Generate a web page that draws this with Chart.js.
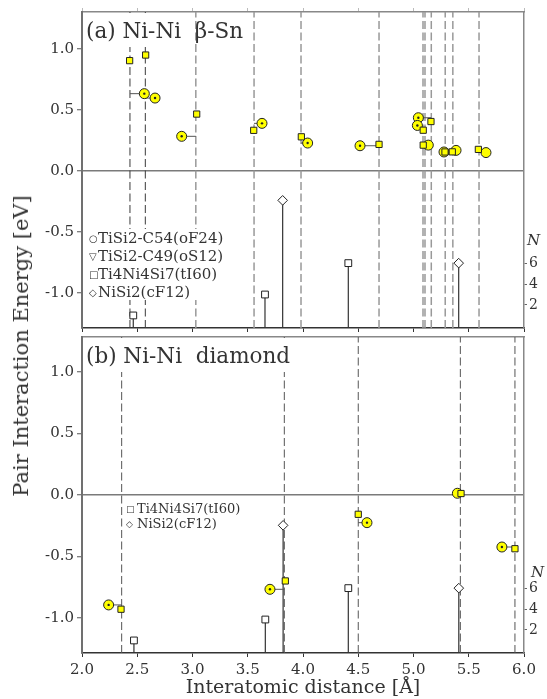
<!DOCTYPE html>
<html>
<head>
<meta charset="utf-8">
<script src="https://cdn.jsdelivr.net/npm/chart.js@4.4.0/dist/chart.umd.min.js"></script>
<style>
    html, body { margin: 0; padding: 0; background: #fff; }
    #wrap { position: relative; width: 547px; height: 699px; overflow: hidden; }
    canvas { position: absolute; left: 0; }
    #chartA { top: 0; }
    #chartB { top: 320px; }
    #ytitle {
        position: absolute; left: 21px; top: 346px;
        transform: translate(-50%, -50%) rotate(-90deg);
        font: 21px 'DejaVu Serif', serif; color: #333; white-space: nowrap;
    }
</style>
</head>
<body>
<div id="wrap">
    <canvas id="chartA" width="547" height="340"></canvas>
    <canvas id="chartB" width="547" height="379"></canvas>
    <div id="ytitle">Pair Interaction Energy [eV]</div>
</div>
<script>
const SERIF = "'DejaVu Serif', serif";

const xTicks = [2.0, 2.5, 3.0, 3.5, 4.0, 4.5, 5.0, 5.5, 6.0];
const yTicks = [-1.0, -0.5, 0.0, 0.5, 1.0];
const nTicks = [2, 4, 6];

// (a) Ni-Ni beta-Sn
const aGuideDark = [2.434, 2.573];
const aGuideLight = [3.030, 3.557, 3.982, 4.688, 5.086, 5.104, 5.161, 5.287, 5.356, 5.593];
const aSquareX = [2.431, 2.576, 3.038, 3.554, 3.985, 4.688, 5.158, 5.088, 5.088, 5.285, 5.351, 5.587];
const aSquareY = [0.902, 0.948, 0.465, 0.332, 0.279, 0.217, 0.404, 0.333, 0.211, 0.155, 0.156, 0.176];
const aCircleX = [2.564, 2.661, 2.902, 3.629, 4.042, 4.516, 5.044, 5.035, 5.134, 5.276, 5.385, 5.656];
const aCircleY = [0.632, 0.596, 0.283, 0.389, 0.228, 0.206, 0.435, 0.372, 0.211, 0.155, 0.168, 0.150];
const aCircleFrom = [2.434, 2.573, 3.030, 3.557, 3.982, 4.688, 5.161, 5.086, null, null, null, null];
const aStemX = [2.464, 3.656, 3.816, 4.410, 5.409];
const aStemN = [1, 3, 12, 6, 6];
const aStemPhase = ['tI60', 'tI60', 'cF12', 'tI60', 'cF12'];

// (b) Ni-Ni diamond
const bGuide = [2.359, 3.831, 4.500, 5.424, 5.918];
const bSquareX = [2.353, 3.840, 4.500, 5.430, 5.918];
const bSquareY = [-0.929, -0.699, -0.157, 0.012, -0.437];
const bCircleX = [2.241, 3.701, 4.579, 5.397, 5.800];
const bCircleY = [-0.894, -0.767, -0.225, 0.014, -0.423];
const bCircleFrom = [2.359, 3.831, 4.500, null, 5.918];
const bStemX = [2.470, 3.659, 3.820, 4.410, 5.410];
const bStemN = [1, 3, 12, 6, 6];
const bStemPhase = ['tI60', 'tI60', 'cF12', 'tI60', 'cF12'];

const N_MIN = -0.2, N_MAX = 30;
const phaseStyle = { tI60: 'rect', cF12: 'rectRot' };

function pairs(xs, ys) {
    return xs.map((x, i) => ({ x: x, y: ys[i] }));
}

function guides(xs, lo, hi) {
    const pts = [];
    xs.forEach(x => { pts.push({ x: x, y: lo }, { x: x, y: hi }, { x: x, y: null }); });
    return pts;
}

function connectors(cx, cy, from) {
    const pts = [];
    cx.forEach((x, i) => {
        if (from[i] === null) return;
        pts.push({ x: from[i], y: cy[i] }, { x: x, y: cy[i] }, { x: x, y: null });
    });
    return pts;
}

function dots(cx, cy, from) {
    return cx.map((x, i) => ({ x: x, y: cy[i] })).filter((p, i) => from[i] !== null);
}

function stems(xs, ns) {
    const pts = [];
    xs.forEach((x, i) => { pts.push({ x: x, y: N_MIN }, { x: x, y: ns[i] }, { x: x, y: null }); });
    return pts;
}

const textPlugin = {
    id: 'panelText',
    afterDatasetsDraw(chart, args, opts) {
        const ctx = chart.ctx;
        (opts.boxes || []).forEach(b => {
            ctx.save();
            ctx.fillStyle = '#fff';
            ctx.fillRect(b[0], b[1], b[2], b[3]);
            ctx.restore();
        });
        (opts.items || []).forEach(it => {
            ctx.save();
            ctx.font = it.font;
            ctx.fillStyle = '#333';
            ctx.textBaseline = 'alphabetic';
            ctx.fillText(it.text, it.x, it.y);
            ctx.restore();
        });
    }
};

function buildScales(yMin, yMax, bottomLabels) {
    const x = {
        type: 'linear', position: 'bottom', min: 2, max: 6,
        afterBuildTicks: s => { s.ticks = xTicks.map(v => ({ value: v })); },
        grid: { drawOnChartArea: false, drawTicks: true, tickLength: 4, tickColor: '#333' },
        border: { color: '#333', width: 1.5 },
        ticks: { display: false }
    };
    if (bottomLabels) {
        x.ticks = {
            display: true, padding: 4, color: '#333', autoSkip: false, maxRotation: 0,
            font: { family: SERIF, size: 15 },
            callback: v => v.toFixed(1)
        };
        x.title = {
            display: true, text: 'Interatomic distance [Å]', color: '#333',
            font: { family: SERIF, size: 19 }, padding: { top: 0, bottom: 0 }
        };
        x.afterFit = s => { s.height = 46; };
    }
    const xTop = {
        type: 'linear', position: 'top', min: 2, max: 6,
        afterBuildTicks: s => { s.ticks = xTicks.map(v => ({ value: v })); },
        ticks: { display: false },
        grid: bottomLabels
            ? { display: false, drawTicks: false }
            : { drawOnChartArea: false, drawTicks: true, tickLength: 4, tickColor: '#bbb' },
        border: { display: true, color: '#888', width: 1.5 }
    };
    return {
        x: x,
        xTop: xTop,
        y: {
            type: 'linear', position: 'left', min: yMin, max: yMax,
            afterBuildTicks: s => { s.ticks = yTicks.map(v => ({ value: v })); },
            afterFit: s => { s.width = 82; },
            ticks: { padding: 3, color: '#333', font: { family: SERIF, size: 15 }, callback: v => v.toFixed(1) },
            grid: {
                drawTicks: true, tickLength: 5, tickColor: '#555', tickWidth: 1,
                color: c => (c.tick && c.tick.value === 0) ? '#7a7a7a' : 'rgba(0,0,0,0)',
                lineWidth: 1.5
            },
            border: { color: '#707070', width: 2 }
        },
        n: {
            axis: 'y', type: 'linear', position: 'right', min: N_MIN, max: N_MAX,
            afterBuildTicks: s => { s.ticks = nTicks.map(v => ({ value: v })); },
            afterFit: s => { s.width = 23; },
            ticks: { padding: 2, color: '#333', font: { family: SERIF, size: 14 } },
            grid: { drawOnChartArea: false, drawTicks: true, tickLength: 3, tickColor: '#666' },
            border: { color: '#888', width: 1.5 }
        }
    };
}

function buildDatasets(p) {
    const sets = [
        {
            data: pairs(p.sqX, p.sqY), pointStyle: 'rect', pointRadius: 4.4,
            backgroundColor: '#ffff00', borderColor: '#222', borderWidth: 1, order: 1
        },
        {
            data: dots(p.cX, p.cY, p.cFrom), pointStyle: 'circle', pointRadius: 1.2,
            backgroundColor: '#222', borderColor: '#222', borderWidth: 0, order: 2
        },
        {
            data: pairs(p.cX, p.cY), pointStyle: 'circle', pointRadius: 5,
            backgroundColor: '#ffff00', borderColor: '#222', borderWidth: 1, order: 3
        },
        {
            data: connectors(p.cX, p.cY, p.cFrom), showLine: true, pointRadius: 0,
            borderColor: '#555', borderWidth: 1, order: 4
        },
        {
            data: pairs(p.stemX, p.stemN), yAxisID: 'n',
            pointStyle: p.stemPhase.map(k => phaseStyle[k]), pointRadius: 4.8,
            backgroundColor: '#fff', borderColor: '#222', borderWidth: 1, order: 5
        },
        {
            data: stems(p.stemX, p.stemN), yAxisID: 'n', showLine: true, pointRadius: 0,
            borderColor: '#333', borderWidth: 1.2, order: 6
        }
    ];
    p.guides.forEach((g, i) => {
        sets.push({
            data: guides(g.xs, p.yMin, p.yMax), showLine: true, pointRadius: 0,
            borderColor: g.color, borderWidth: g.width, borderDash: [8, 3.5], order: 7 + i
        });
    });
    return sets;
}

function makeChart(id, p, scales, layoutPad, textOpts) {
    return new Chart(document.getElementById(id), {
        type: 'scatter',
        data: { datasets: buildDatasets(p) },
        options: {
            responsive: false,
            animation: false,
            devicePixelRatio: 1,
            events: [],
            layout: { padding: layoutPad },
            plugins: {
                legend: { display: false },
                tooltip: { enabled: false },
                panelText: textOpts
            },
            scales: scales
        },
        plugins: [textPlugin]
    });
}

const aYMin = -1.285, aYMax = 1.30;
const bYMin = -1.285, bYMax = 1.285;

makeChart('chartA', {
    sqX: aSquareX, sqY: aSquareY, cX: aCircleX, cY: aCircleY, cFrom: aCircleFrom,
    stemX: aStemX, stemN: aStemN, stemPhase: aStemPhase, yMin: aYMin, yMax: aYMax,
    guides: [
        { xs: aGuideDark, color: '#3a3a3a', width: 1 },
        { xs: aGuideLight, color: '#999', width: 1.5 }
    ]
}, buildScales(aYMin, aYMax, false), { top: 8, bottom: 6, left: 0, right: 0 }, {
    boxes: [[84, 13, 106, 34], [87, 229, 141, 71]],
    items: [
        { text: '(a) Ni-Ni  β-Sn', x: 86, y: 38, font: '21.5px ' + SERIF },
        { text: '○', x: 89, y: 242, font: '10px DejaVu Sans' },
        { text: 'TiSi2-C54(oF24)', x: 98, y: 243, font: '15px ' + SERIF },
        { text: '▽', x: 89, y: 260, font: '10px DejaVu Sans' },
        { text: 'TiSi2-C49(oS12)', x: 98, y: 261, font: '15px ' + SERIF },
        { text: '□', x: 89, y: 278, font: '10px DejaVu Sans' },
        { text: 'Ti4Ni4Si7(tI60)', x: 98, y: 279, font: '15px ' + SERIF },
        { text: '◇', x: 89, y: 296, font: '10px DejaVu Sans' },
        { text: 'NiSi2(cF12)', x: 98, y: 297, font: '15px ' + SERIF },
        { text: 'N', x: 527, y: 245, font: 'italic 15px ' + SERIF }
    ]
});

makeChart('chartB', {
    sqX: bSquareX, sqY: bSquareY, cX: bCircleX, cY: bCircleY, cFrom: bCircleFrom,
    stemX: bStemX, stemN: bStemN, stemPhase: bStemPhase, yMin: bYMin, yMax: bYMax,
    guides: [
        { xs: bGuide, color: '#555', width: 1 }
    ]
}, buildScales(bYMin, bYMax, true), { top: 17, bottom: 0, left: 0, right: 0 }, {
    boxes: [[84, 18, 216, 34]],
    items: [
        { text: '(b) Ni-Ni  diamond', x: 86, y: 43, font: '21.5px ' + SERIF },
        { text: '□', x: 126, y: 192, font: '9px DejaVu Sans' },
        { text: 'Ti4Ni4Si7(tI60)', x: 137, y: 193, font: '13px ' + SERIF },
        { text: '◇', x: 126, y: 207, font: '9px DejaVu Sans' },
        { text: 'NiSi2(cF12)', x: 137, y: 208, font: '13px ' + SERIF },
        { text: 'N', x: 531, y: 257, font: 'italic 15px ' + SERIF }
    ]
});
</script>
</body>
</html>
